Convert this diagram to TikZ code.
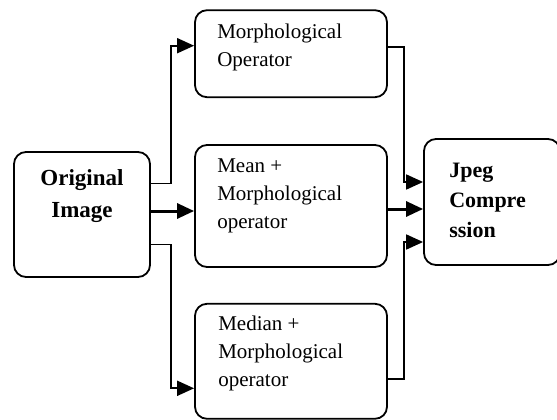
\documentclass[tikz,border=0pt]{standalone}
\usepackage{fontspec}
\setmainfont{Liberation Serif}
\usetikzlibrary{arrows.meta,positioning}

\begin{document}
\begin{tikzpicture}
			[x=1pt, y=-1pt, inner sep=0pt,
			block/.style		= {draw, rectangle, rounded corners=12pt, line width=1.8pt, inner sep=0pt, minimum width=192pt},
			endblock/.style		= {block, minimum width=136pt},
			caption/.style		= {inner sep=0pt, align=left, font=\fontsize{21}{28}\selectfont},
			link/.style			= {line width=1.8pt, -{Triangle[length=17pt,width=15pt]}},
			mainlink/.style		= {link, line width=3pt}]

			\useasboundingbox (0,0) rectangle (557,420);

			\node [endblock, minimum height=125pt]	at (82,214.5)				(orig)		{};
			\node [block, minimum height=122pt]		at (291,206)				(mean)		{};
			\node [block, minimum height=87pt]		[above = 46pt of mean]		(morph)		{};
			\node [block, minimum height=115pt]		[below = 35pt of mean]		(median)	{};
			\node [endblock, minimum height=126pt]	at (492,202)				(jpeg)		{};

			\node [caption, align=center, font=\fontsize{23}{32}\selectfont\bfseries]
													at ([yshift=18pt]orig.center)				(origtext)		{Original\\Image};
			\node [caption, anchor=west]			at ([xshift=23pt,yshift=6pt]morph.west)		(morphtext)		{Morphological\\Operator};
			\node [caption, anchor=west]			at ([xshift=23pt,yshift=10pt]mean.west)		(meantext)		{Mean +\\Morphological\\operator};
			\node [caption, anchor=west]			at ([xshift=24pt,yshift=8pt]median.west)	(mediantext)	{Median +\\Morphological\\operator};
			\node [caption, anchor=west, font=\fontsize{22}{30}\selectfont\bfseries]
													at ([xshift=26pt,yshift=2pt]jpeg.west)		(jpegtext)		{Jpeg\\Compre\\ssion};

			\coordinate (m1) at ([yshift=-5pt]mean.west);
			\coordinate (j2) at ([yshift=-7pt]jpeg.west);

			\draw [link]		([yshift=31pt]orig.east) -- ++(20pt,0) |- ([yshift=8pt]morph.west);
			\draw [mainlink]	(orig.east |- m1) -- (m1);
			\draw [link]		([yshift=-30pt]orig.east) -- ++(20pt,0) |- ([yshift=-27pt]median.west);

			\draw [link]		([yshift=7pt]morph.east) -- ++(16pt,0) |- ([yshift=20pt]jpeg.west);
			\draw [mainlink]	(mean.east |- j2) -- (j2);
			\draw [link]		([yshift=-18pt]median.east) -- ++(16pt,0) |- ([yshift=-40pt]jpeg.west);
\end{tikzpicture}
\end{document}
